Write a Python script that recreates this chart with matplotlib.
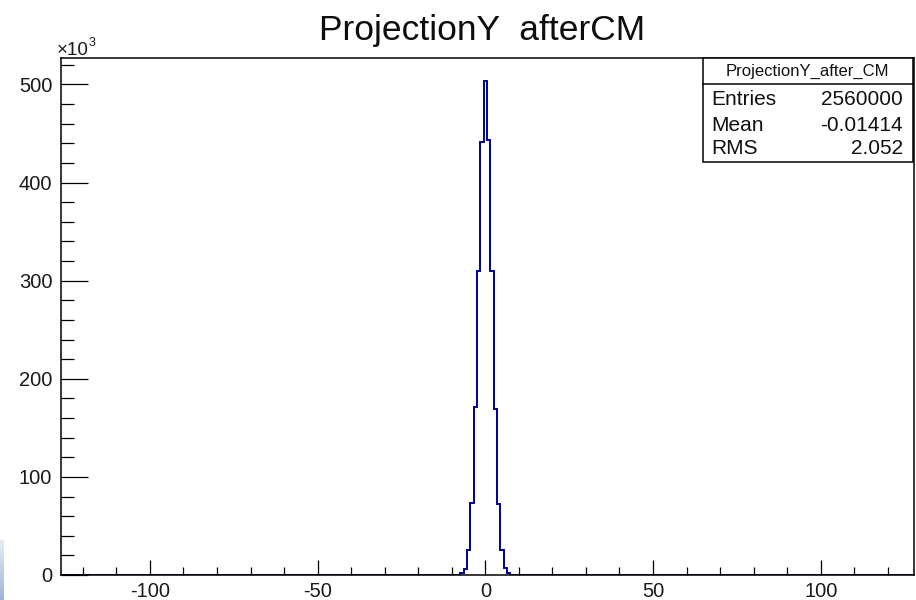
import numpy as np
import matplotlib.pyplot as plt
from matplotlib.patches import Rectangle
from matplotlib.ticker import MultipleLocator, FuncFormatter

plt.rcParams['font.family'] = ['Liberation Sans', 'DejaVu Sans']

# histograma: bines de ancho 1 centrados en enteros, cuentas en unidades de 10^3
bin_centers = [-8, -7, -6, -5, -4, -3, -2, -1, 0, 1, 2, 3, 4, 5, 6, 7, 8]
counts_k = [0.4, 2.4, 5.8, 25.5, 73, 171, 310, 441, 504, 443, 310, 169, 72, 25.5, 7, 2.4, 0.4]
hist_lo, hist_hi = -127.5, 128.5

stats_name = "ProjectionY_after_CM"
stats_labels = ["Entries", "Mean", "RMS"]
stats_values = ["2560000", "-0.01414", "2.052"]

W, H = 916, 600


def fx(x):
    return x / W


def fy(y):
    return 1 - y / H


fig = plt.figure(figsize=(W / 100, H / 100), dpi=100)
ax = fig.add_axes([fx(60.7), fy(575), (914.3 - 60.7) / W, (575 - 58.3) / H])

# histograma completo (ceros fuera del pico)
edges = np.arange(hist_lo, hist_hi + 1, 1.0)
full = np.zeros(len(edges) - 1)
for c, v in zip(bin_centers, counts_k):
    full[int(c - hist_lo - 0.5)] = v
ax.stairs(full, edges, color='#00009a', linewidth=1.4, baseline=None)

ax.set_xlim(-126.6, 127.9)
ax.set_ylim(0, 526.7)

ax.xaxis.set_major_locator(MultipleLocator(50))
ax.xaxis.set_minor_locator(MultipleLocator(10))
ax.yaxis.set_major_locator(MultipleLocator(100))
ax.yaxis.set_minor_locator(MultipleLocator(20))
fmt = FuncFormatter(lambda v, p: f"{v:.0f}".replace("\u2212", "-"))
ax.xaxis.set_major_formatter(fmt)
ax.yaxis.set_major_formatter(fmt)

ax.tick_params(axis='both', which='both', direction='in', width=0.9, color='black',
               labelsize=14.5, labelcolor='#1a1a1a')
ax.tick_params(axis='x', which='major', length=10.8, pad=5)
ax.tick_params(axis='x', which='minor', length=5.8)
ax.tick_params(axis='y', which='major', length=19.5, pad=6)
ax.tick_params(axis='y', which='minor', length=9.4)
for s in ax.spines.values():
    s.set_linewidth(1.1)

# titulo
fig.text(fx(482), fy(40), "ProjectionY  afterCM", ha='center', va='baseline',
         fontsize=25.5, color='#0d0d0d')

# factor x10^3
fig.text(fx(57), fy(55), "\u00d710", ha='left', va='baseline', fontsize=13.5, color='#1a1a1a')
fig.text(fx(88.5), fy(46), "3", ha='left', va='baseline', fontsize=9, color='#1a1a1a')

# caja de estadisticas
fig.patches.append(Rectangle((fx(703), fy(162)), fx(913 - 703), (162 - 58) / H,
                             transform=fig.transFigure, facecolor='white',
                             edgecolor='black', linewidth=1.1, zorder=5))
fig.lines.append(plt.Line2D([fx(703), fx(913)], [fy(83.5), fy(83.5)],
                            transform=fig.transFigure, color='black', linewidth=1.1, zorder=6))
fig.text(fx(807), fy(76), stats_name, ha='center', va='baseline', fontsize=12,
         color='#111111', zorder=7)
rows_y = [105, 131, 154]
for lab, val, yy in zip(stats_labels, stats_values, rows_y):
    fig.text(fx(711), fy(yy), lab, ha='left', va='baseline', fontsize=15, color='#111111', zorder=7)
    fig.text(fx(903), fy(yy), val, ha='right', va='baseline', fontsize=15, color='#111111', zorder=7)

# franja azul de la esquina inferior izquierda (captura)
grad = np.linspace(0, 1, 50).reshape(-1, 1)
gax = fig.add_axes([0, 0, fx(4), 60 / H])
gax.imshow(grad, aspect='auto', cmap=plt.matplotlib.colors.LinearSegmentedColormap.from_list(
    'g', ['#e4ebf5', '#9fb4d8']), origin='upper')
gax.axis('off')

fig.savefig("out.png", dpi=100)
